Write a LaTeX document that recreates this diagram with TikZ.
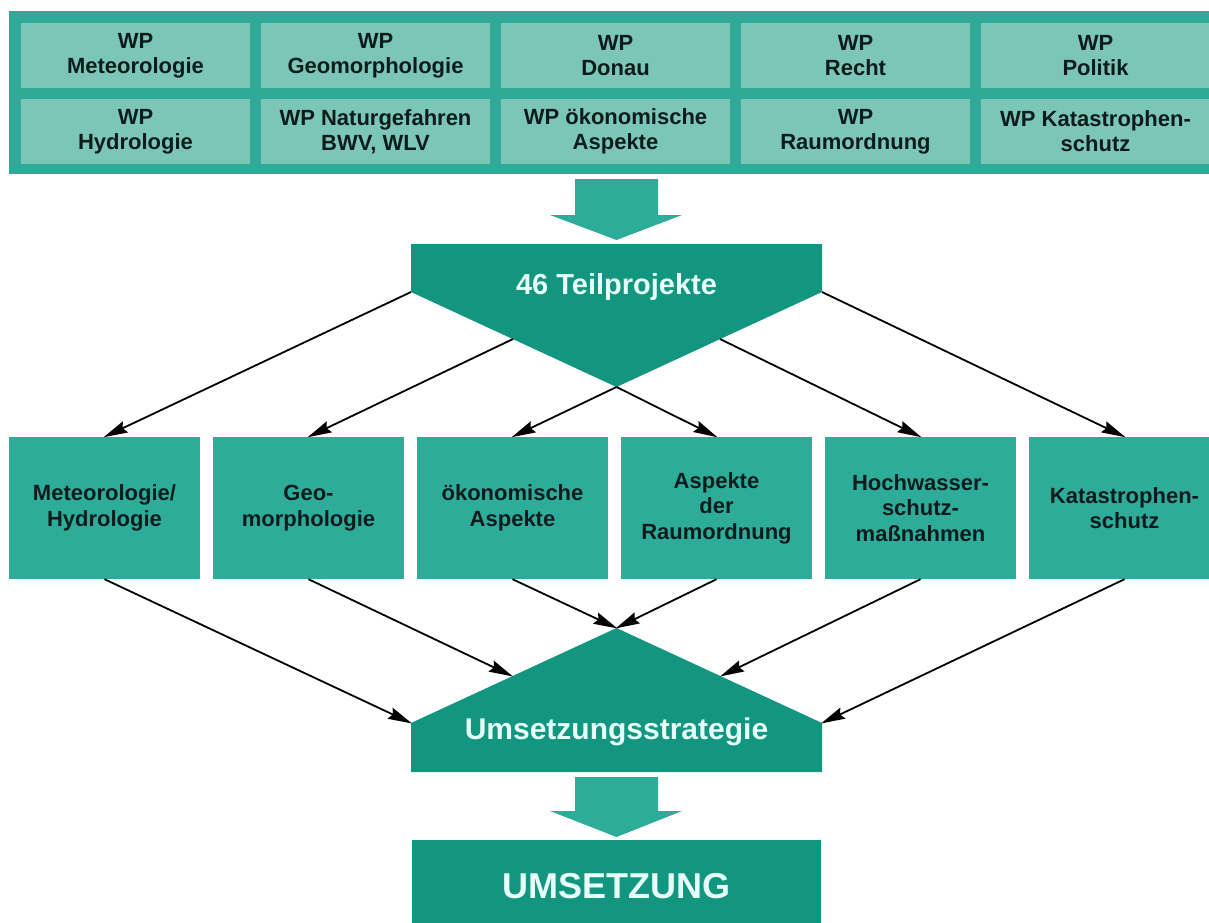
\documentclass[tikz,border=0pt]{standalone}
\usepackage{fontspec}
\setmainfont{Liberation Sans}
\usetikzlibrary{arrows.meta}

\definecolor{bandteal}{HTML}{2FAA98}
\definecolor{paleteal}{HTML}{7CC6B8}
\definecolor{midteal}{HTML}{2EAC9A}
\definecolor{deepteal}{HTML}{12967F}
\definecolor{inktext}{HTML}{0C1C1C}
\definecolor{glowtext}{HTML}{E6FFF8}

\tikzset{
  wpbox/.style={fill=paleteal, minimum width=229pt, minimum height=65pt, inner sep=0pt,
    align=center, text=inktext, font=\fontsize{22pt}{25pt}\selectfont\bfseries},
  fieldbox/.style={fill=midteal, minimum width=191pt, minimum height=142pt, inner sep=0pt,
    align=center, text=inktext, font=\fontsize{22pt}{25.5pt}\selectfont\bfseries},
  biglabel/.style={anchor=base, text=glowtext, font=\fontsize{29pt}{32pt}\selectfont\bfseries},
  flow/.style={-{Stealth[length=24pt,width=12pt,inset=3pt]}, line width=1.8pt, shorten >=-1pt},
  fatarrow/.style={fill=midteal}
}

\begin{document}
\begin{tikzpicture}[x=1pt,y=-1pt]
\useasboundingbox (0,0) rectangle (1209,922);
\fill[white] (0,0) rectangle (1209,922);
\clip (0,0) rectangle (1209,922);

% work packages
\fill[bandteal] (9,11) rectangle (1215,174);

\path (135.5,55.5) node (wp1) [wpbox] {WP\\Meteorologie};
\path (375.5,55.5) node (wp2) [wpbox] {WP\\Geomorphologie};
\path (615.5,55.5) node (wp3) [wpbox] {WP\\Donau};
\path (855.5,55.5) node (wp4) [wpbox] {WP\\Recht};
\path (1095.5,55.5) node (wp5) [wpbox] {WP\\Politik};

\path (135.5,131.5) node (wp6) [wpbox] {WP\\Hydrologie};
\path (375.5,131.5) node (wp7) [wpbox] {WP Naturgefahren\\BWV, WLV};
\path (615.5,131.5) node (wp8) [wpbox] {WP ökonomische\\Aspekte};
\path (855.5,131.5) node (wp9) [wpbox] {WP\\Raumordnung};
\path (1095.5,131.5) node (wp10) [wpbox] {WP Katastrophen-\\schutz};

\fill[fatarrow] (575,179) -- (658,179) -- (658,215) -- (682,215) -- (616.5,240)
  -- (550,215) -- (575,215) -- cycle;

% 46 Teilprojekte
\fill[deepteal] (411,244) -- (822,244) -- (822,292) -- (616.5,387) -- (411,292) -- cycle;
\path (616.5,294) node (tp) [biglabel] {46 Teilprojekte};
\coordinate (tpL) at (411,292);
\coordinate (tpR) at (822,292);
\coordinate (tpLs) at (513,339);
\coordinate (tpRs) at (720,339);
\coordinate (tpTip) at (616.5,387);

% fields
\path (104.5,508) node (f1) [fieldbox] {Meteorologie/\\Hydrologie};
\path (308.5,508) node (f2) [fieldbox] {Geo-\\morphologie};
\path (512.5,508) node (f3) [fieldbox] {ökonomische\\Aspekte};
\path (716.5,508) node (f4) [fieldbox] {Aspekte\\der\\Raumordnung};
\path (920.5,508) node (f5) [fieldbox] {Hochwasser-\\schutz-\\maßnahmen};
\path (1124.5,508) node (f6) [fieldbox] {Katastrophen-\\schutz};

\draw [flow] (tpL) to (f1.north);
\draw [flow] (tpLs) to (f2.north);
\draw [flow] (tpTip) to (f3.north);
\draw [flow] (tpTip) to (f4.north);
\draw [flow] (tpRs) to (f5.north);
\draw [flow] (tpR) to (f6.north);

% Umsetzungsstrategie
\fill[deepteal] (411,723) -- (616.5,628) -- (822,723) -- (822,772) -- (411,772) -- cycle;
\path (616.5,739) node (us) [biglabel, font=\fontsize{30pt}{32pt}\selectfont\bfseries] {Umsetzungsstrategie};
\coordinate (usL) at (411,723);
\coordinate (usR) at (822,723);
\coordinate (usLs) at (512,676);
\coordinate (usRs) at (721,676);
\coordinate (usTop) at (616.5,628);

\draw [flow] (f1.south) to (usL);
\draw [flow] (f2.south) to (usLs);
\draw [flow] (f3.south) to (usTop);
\draw [flow] (f4.south) to (usTop);
\draw [flow] (f5.south) to (usRs);
\draw [flow] (f6.south) to (usR);

\fill[fatarrow] (575,777) -- (658,777) -- (658,811) -- (682,811) -- (616.5,837)
  -- (550,811) -- (575,811) -- cycle;

% UMSETZUNG
\fill[deepteal] (412,840) rectangle (821,930);
\path (616.5,898) node (um) [biglabel, font=\fontsize{36pt}{38pt}\selectfont\bfseries] {UMSETZUNG};

\end{tikzpicture}
\end{document}
